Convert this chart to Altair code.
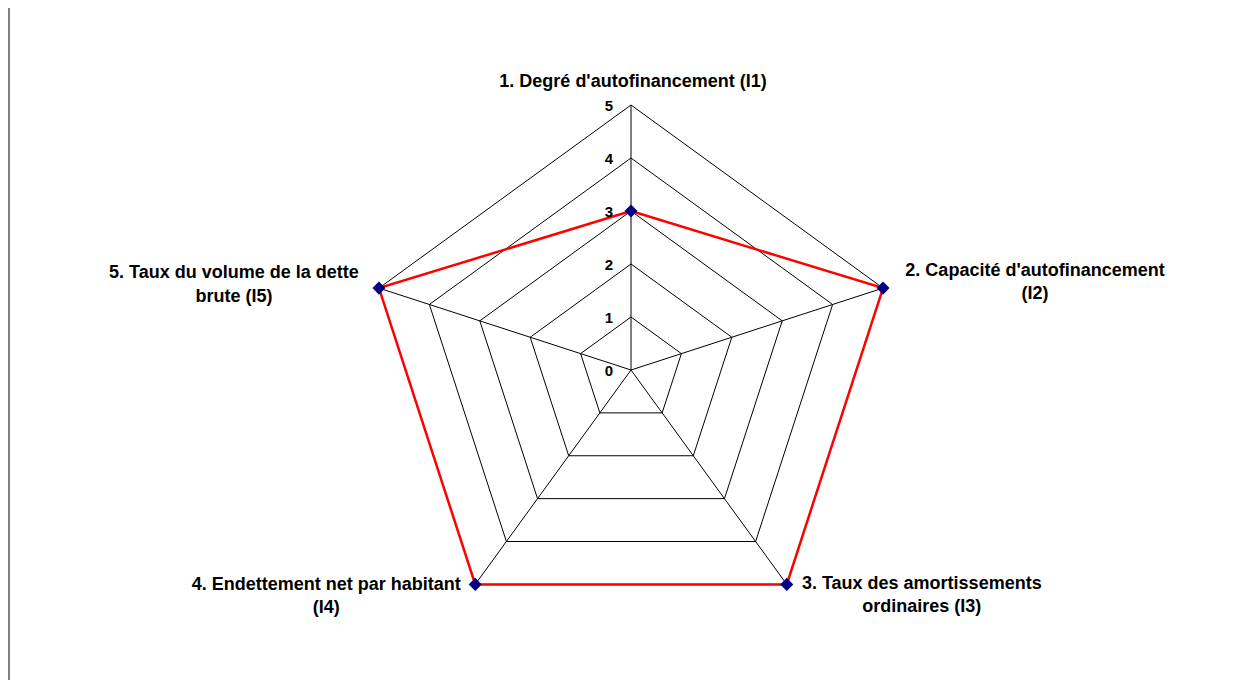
import altair as alt
import pandas as pd

# ---------------- data ----------------
categories = [
    "1. Degré d'autofinancement (I1)",
    "2. Capacité d'autofinancement (I2)",
    "3. Taux des amortissements ordinaires (I3)",
    "4. Endettement net par habitant (I4)",
    "5. Taux du volume de la dette brute (I5)",
]
label_lines = [
    ["1. Degré d'autofinancement (I1)"],
    ["2. Capacité d'autofinancement", "(I2)"],
    ["3. Taux des amortissements", "ordinaires (I3)"],
    ["4. Endettement net par habitant", "(I4)"],
    ["5. Taux du volume de la dette", "brute (I5)"],
]
values = [3, 5, 5, 5, 5]
ticks = [0, 1, 2, 3, 4, 5]

# ---------------- layout / style ----------------
W, H = 1228, 672
CX, CY = 623.0, 362.0     # centre of the radar in chart pixels
PX = 53.0                 # pixels per unit
XDOM = [-CX / PX, (W - CX) / PX]
YDOM = [-(H - CY) / PX, CY / PX]
RMAX = max(ticks)
N = len(categories)
FONT = "Liberation Sans"
# per-label line offsets (dx, dy) from the outer vertex
label_offsets = [
    [(2, -23)],
    [(152, -17), (152, 6)],
    [(135, 0), (135, 23)],
    [(-149, 1), (-149, 24)],
    [(-145, -15), (-145, 9)],
]

xs = alt.Scale(domain=XDOM, nice=False, zero=False)
ys = alt.Scale(domain=YDOM, nice=False, zero=False)

ANG = "PI/2 - 2*PI*datum.i/%d" % N


def polar(chart):
    return chart.transform_calculate(
        x="datum.r*cos(%s)" % ANG, y="datum.r*sin(%s)" % ANG
    )


# grid polygons
grid_rows = []
for lv in ticks[1:]:
    for k in range(N + 1):
        grid_rows.append({"level": lv, "i": k % N, "k": k, "r": lv})
grid_df = pd.DataFrame(grid_rows)

grid = polar(alt.Chart(grid_df)).mark_line(color="black", strokeWidth=1).encode(
    x=alt.X("x:Q", scale=xs, axis=None),
    y=alt.Y("y:Q", scale=ys, axis=None),
    detail="level:N",
    order="k:Q",
)

# spokes
spoke_df = pd.DataFrame({"i": list(range(N)), "r": [RMAX] * N, "cat": categories})
spokes = (
    polar(alt.Chart(spoke_df))
    .transform_calculate(x0="0", y0="0")
    .mark_rule(color="black", strokeWidth=1)
    .encode(
        x=alt.X("x0:Q", scale=xs, axis=None),
        y=alt.Y("y0:Q", scale=ys, axis=None),
        x2="x:Q",
        y2="y:Q",
    )
)

# series
ser_rows = []
for k in range(N + 1):
    ser_rows.append({"i": k % N, "k": k, "r": values[k % N], "cat": categories[k % N]})
ser_df = pd.DataFrame(ser_rows)

series_line = polar(alt.Chart(ser_df)).mark_line(color="#FF0000", strokeWidth=2.5).encode(
    x=alt.X("x:Q", scale=xs, axis=None),
    y=alt.Y("y:Q", scale=ys, axis=None),
    order="k:Q",
)
series_pts = (
    polar(alt.Chart(ser_df[ser_df.k < N]))
    .mark_point(shape="diamond", filled=True, color="#000080", size=170, opacity=1)
    .encode(
        x=alt.X("x:Q", scale=xs, axis=None),
        y=alt.Y("y:Q", scale=ys, axis=None),
    )
)

# tick labels
tick_df = pd.DataFrame({"r": ticks, "i": [0] * len(ticks), "t": [str(t) for t in ticks]})
tick_text = polar(alt.Chart(tick_df)).mark_text(
    font=FONT, fontSize=15, fontWeight="bold", align="right", baseline="middle",
    dx=-18, dy=1, color="black",
).encode(
    x=alt.X("x:Q", scale=xs, axis=None),
    y=alt.Y("y:Q", scale=ys, axis=None),
    text="t:N",
)

# category labels
label_layers = []
for ci, lines in enumerate(label_lines):
    for li, line in enumerate(lines):
        dx, dy = label_offsets[ci][li]
        df = pd.DataFrame({"i": [ci], "r": [RMAX], "txt": [line]})
        label_layers.append(
            polar(alt.Chart(df)).mark_text(
                font=FONT, fontSize=18, fontWeight="bold", align="center",
                baseline="middle", dx=dx, dy=dy, color="black",
            ).encode(
                x=alt.X("x:Q", scale=xs, axis=None),
                y=alt.Y("y:Q", scale=ys, axis=None),
                text="txt:N",
            )
        )

# left frame line
frame = alt.Chart(pd.DataFrame({"a": [0]})).mark_rule(color="#808080", strokeWidth=2).encode(
    x=alt.value(1), y=alt.value(0), y2=alt.value(H)
)

chart = alt.layer(grid, spokes, series_line, series_pts, tick_text, *label_layers, frame).properties(
    width=W, height=H, padding=0, autosize=alt.AutoSizeParams(type="none"),
    background="white",
).configure_view(stroke=None)

chart.save("out.html", embed_options={"renderer": "svg", "actions": False})
